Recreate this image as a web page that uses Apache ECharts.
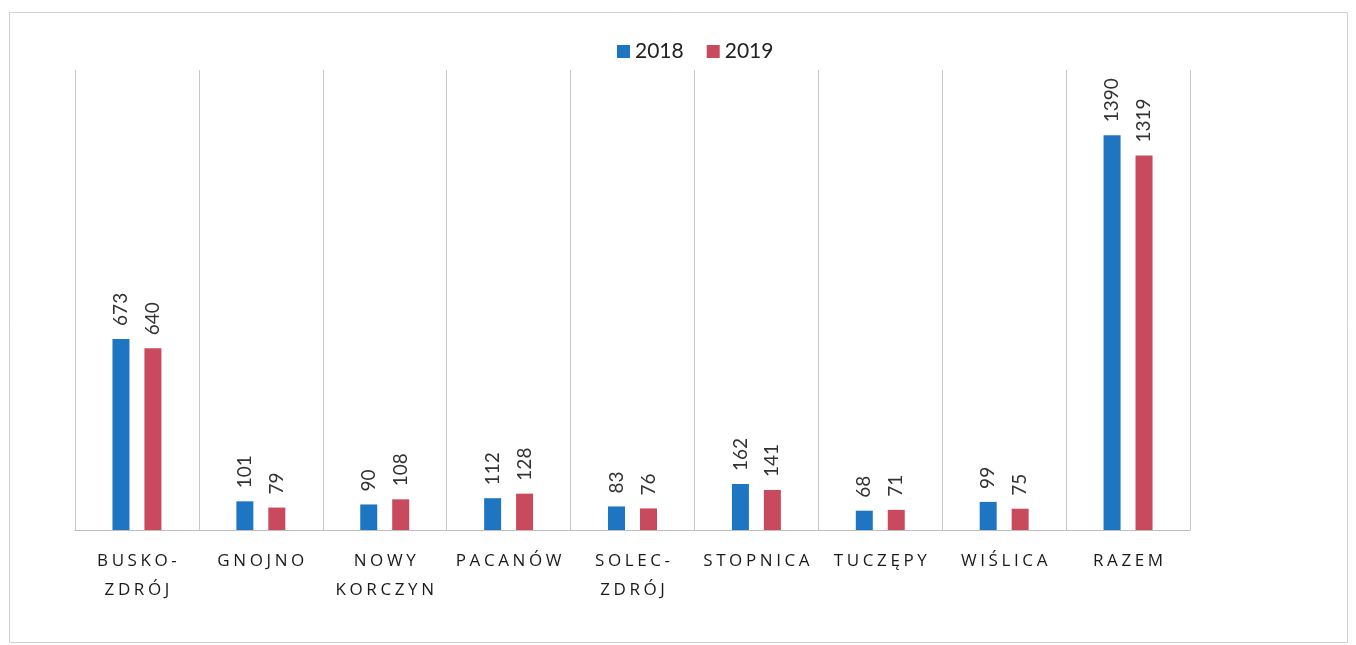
<!DOCTYPE html>
<html>
<head>
<meta charset="utf-8">
<script src="https://cdn.jsdelivr.net/npm/echarts@6/dist/echarts.min.js"></script>
<style>
html,body{margin:0;padding:0;background:#fff;}
#chart{width:1356px;height:645px;}
</style>
</head>
<body>
<div id="chart"></div>
<script>
const categories = ['BUSKO-\nZDRÓJ','GNOJNO','NOWY\nKORCZYN','PACANÓW','SOLEC-\nZDRÓJ','STOPNICA','TUCZĘPY','WIŚLICA','RAZEM'];
const seriesNames = ['2018','2019'];
const values2018 = [673,101,90,112,83,162,68,99,1390];
const values2019 = [640,79,108,128,76,141,71,75,1319];

const chart = echarts.init(document.getElementById('chart'));
const labelStyle = {
  show: true, position: 'top', rotate: 90, align: 'left', verticalAlign: 'middle',
  distance: 13, color: '#333', fontSize: 19, fontFamily: 'Lato, "Open Sans", sans-serif'
};
// spread letters (letter spacing) using rich-text tokens, text itself unchanged
function spaced(v) {
  return v.split('\n').map(line =>
    Array.from(line).map(ch => '{s|' + ch + '}').join('')
  ).join('\n');
}
chart.setOption({
  animation: false,
  backgroundColor: '#fff',
  graphic: [{
    type: 'rect', left: 7, top: 10, shape: {width: 1338, height: 630},
    style: {fill: 'none', stroke: '#d0d0d0', lineWidth: 1}, silent: true
  }],
  legend: {
    top: 36, left: 612, itemWidth: 13, itemHeight: 13, itemGap: 23,
    icon: 'rect',
    textStyle: {fontSize: 21, color: '#222', fontFamily: 'Lato, "Open Sans", sans-serif'},
    data: seriesNames
  },
  grid: {left: 75, right: 166, top: 70, bottom: 115},
  xAxis: {
    type: 'category', data: categories,
    axisLine: {show: true, lineStyle: {color: '#bdbdbd', width: 1}},
    axisTick: {show: false},
    splitLine: {show: true, lineStyle: {color: '#c8c8c8', width: 1}},
    axisLabel: {
      interval: 0, margin: 17, color: '#1a1a1a', fontSize: 17, lineHeight: 29,
      fontFamily: '"Open Sans", Lato, sans-serif',
      formatter: spaced,
      rich: {
        s: {fontSize: 17, lineHeight: 29, color: '#1a1a1a', fontFamily: '"Open Sans", Lato, sans-serif', padding: [0, 1.8, 0, 1.8]}
      }
    }
  },
  yAxis: {
    type: 'value', min: 0, max: 1620, show: false,
    splitLine: {show: false}
  },
  series: [
    {name: seriesNames[0], type: 'bar', data: values2018, barWidth: 17, barGap: '88%',
     itemStyle: {color: '#1e76c2'}, label: labelStyle},
    {name: seriesNames[1], type: 'bar', data: values2019, barWidth: 17,
     itemStyle: {color: '#c84a5c'}, label: labelStyle}
  ]
});
</script>
</body>
</html>
